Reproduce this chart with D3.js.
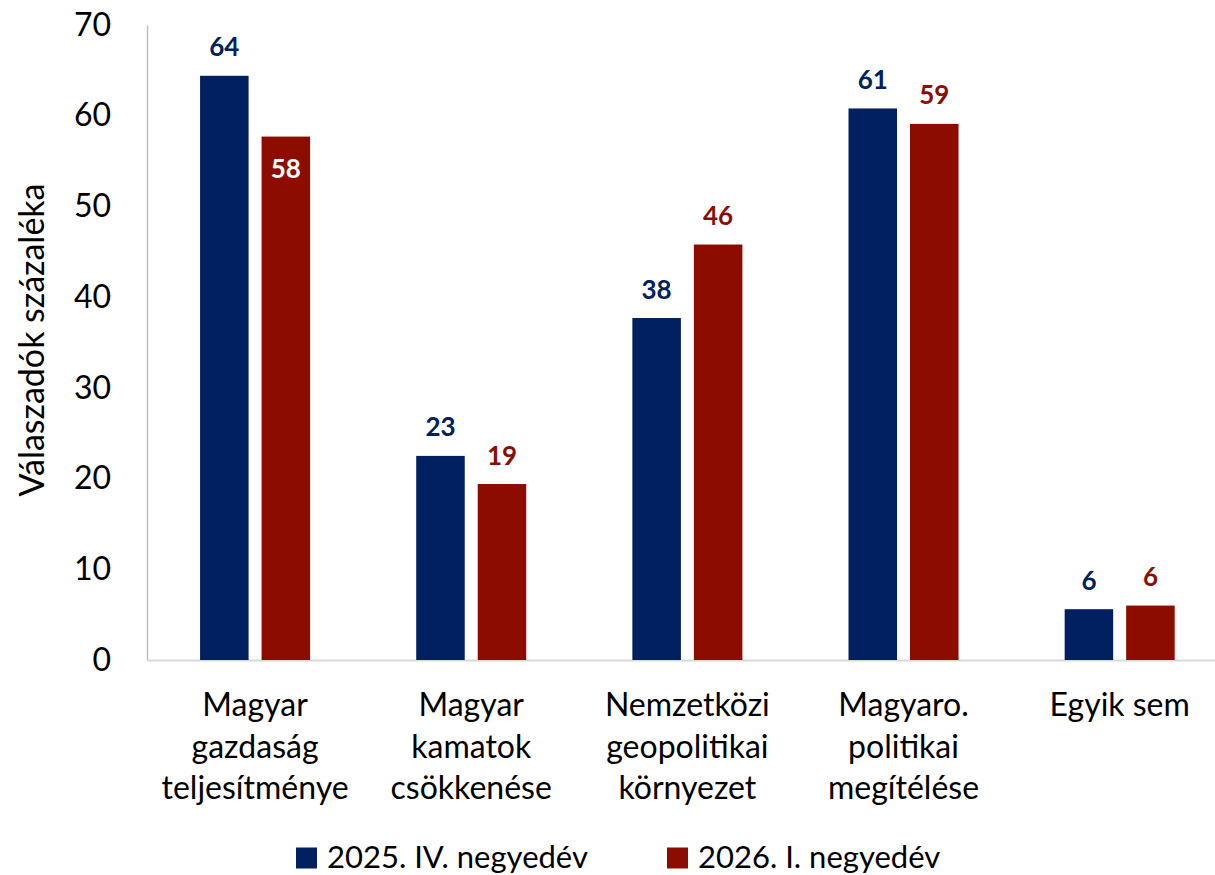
<!DOCTYPE html>
<html lang="hu">
<head>
    <meta charset="UTF-8">
    <title>Válaszadók százaléka</title>
    <script src="https://d3js.org/d3.v7.min.js"></script>
    <style>
        body { margin: 0; background: #fff; }
        svg { display: block; font-family: Lato, "Open Sans", sans-serif; }
        .y-axis text { font-size: 32px; fill: #000; }
        .cat-label { font-size: 32px; fill: #000; }
        .value-label { font-size: 26px; font-weight: 700; }
        .legend text { font-size: 31px; fill: #000; }
    </style>
</head>
<body>
    <svg width="1215" height="875"></svg>
    <script>
// categories (line breaks as in the original labels)
const categories = [
    ['Magyar', 'gazdaság', 'teljesítménye'],
    ['Magyar', 'kamatok', 'csökkenése'],
    ['Nemzetközi', 'geopolitikai', 'környezet'],
    ['Magyaro.', 'politikai', 'megítélése'],
    ['Egyik sem']
];
const seriesNames = ['2025. IV. negyedév', '2026. I. negyedév'];
const q4_2025 = [64.4, 22.5, 37.7, 60.8, 5.6];
const q1_2026 = [57.7, 19.4, 45.8, 59.1, 6.0];
const yTicks = [0, 10, 20, 30, 40, 50, 60, 70];
const colors = ['#002060', '#8C0D00'];

const seriesValues = [q4_2025, q1_2026];
const catKeys = categories.map(c => c.join(' '));

const svg = d3.select('svg');

// plot area
const plotLeft = 147, plotBottom = 660, plotTop = 25, step = 216.15;

const y = d3.scaleLinear()
    .domain([0, 70])
    .range([plotBottom, plotTop]);

const x0 = d3.scaleBand()
    .domain(catKeys)
    .range([plotLeft, plotLeft + step * catKeys.length])
    .paddingInner(0.491)
    .paddingOuter(0.2455);

const x1 = d3.scaleBand()
    .domain(seriesNames)
    .range([0, x0.bandwidth()])
    .paddingInner(0.211);

// y axis
const yAxis = svg.append('g')
    .attr('class', 'y-axis')
    .attr('transform', `translate(${plotLeft},0)`)
    .call(d3.axisLeft(y).tickValues(yTicks).tickSize(0).tickPadding(36));
yAxis.select('.domain').attr('stroke', '#bfbfbf').attr('stroke-width', 1.5);
yAxis.attr('font-family', null).attr('font-size', null);

// x axis (labels drawn separately for multi-line text)
const xAxis = svg.append('g')
    .attr('class', 'x-axis')
    .attr('transform', `translate(0,${plotBottom})`)
    .call(d3.axisBottom(x0).tickSize(0).tickFormat(''));
xAxis.select('.domain').attr('stroke', '#d9d9d9').attr('stroke-width', 2);

categories.forEach((lines, i) => {
    const cx = x0(catKeys[i]) + x0.bandwidth() / 2;
    const t = svg.append('text')
        .attr('class', 'cat-label')
        .attr('text-anchor', 'middle')
        .attr('x', cx)
        .attr('y', 716);
    lines.forEach((line, j) => {
        t.append('tspan')
            .attr('x', cx)
            .attr('dy', j === 0 ? 0 : 41.5)
            .text(line);
    });
});

// y axis title
svg.append('text')
    .attr('transform', `translate(44,340) rotate(-90)`)
    .attr('text-anchor', 'middle')
    .attr('font-size', 34)
    .attr('fill', '#000')
    .text('Válaszadók százaléka');

// bars
const rows = [];
seriesValues.forEach((vals, s) => {
    vals.forEach((v, i) => rows.push({ s, i, v }));
});

svg.append('g')
    .selectAll('rect')
    .data(rows)
    .enter()
    .append('rect')
    .attr('x', d => x0(catKeys[d.i]) + x1(seriesNames[d.s]))
    .attr('y', d => y(d.v))
    .attr('width', x1.bandwidth())
    .attr('height', d => y(0) - y(d.v))
    .attr('fill', d => colors[d.s]);

// value labels: the 2026 label of the first category sits inside the bar
const insideLabel = d => d.s === 1 && d.i === 0;

svg.append('g')
    .selectAll('text')
    .data(rows)
    .enter()
    .append('text')
    .attr('class', 'value-label')
    .attr('text-anchor', 'middle')
    .attr('x', d => x0(catKeys[d.i]) + x1(seriesNames[d.s]) + x1.bandwidth() / 2)
    .attr('y', d => insideLabel(d) ? y(d.v) + 41 : y(d.v) - 19.5)
    .attr('fill', d => insideLabel(d) ? '#fff' : colors[d.s])
    .text(d => Math.round(d.v));

// legend
const legendX = [296, 667];
const legend = svg.append('g').attr('class', 'legend');
seriesNames.forEach((name, s) => {
    legend.append('rect')
        .attr('x', legendX[s])
        .attr('y', 847.5)
        .attr('width', 21)
        .attr('height', 21)
        .attr('fill', colors[s]);
    legend.append('text')
        .attr('x', legendX[s] + 31)
        .attr('y', 868)
        .text(name);
});
    </script>
</body>
</html>
